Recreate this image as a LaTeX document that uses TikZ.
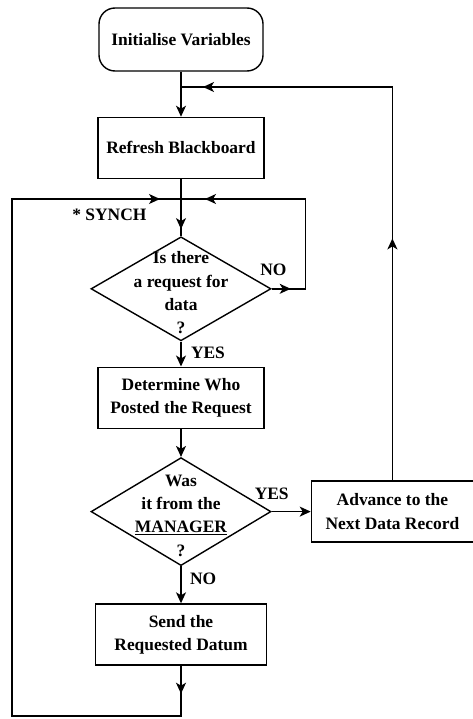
\documentclass[tikz,border=0pt]{standalone}
\usepackage{fontspec}
\setmainfont{Liberation Serif}
\usetikzlibrary{shapes.geometric, arrows.meta, positioning, calc, decorations.markings}
\tikzstyle{process} = [rectangle, minimum width=166bp, minimum height=61bp, text centered, align=center, draw=black, line width=1.4bp, inner sep=2bp]
\tikzstyle{startstop} = [process, rounded corners=16bp, minimum width=164bp, minimum height=63bp]
\tikzstyle{decision} = [diamond, draw=black, line width=1.4bp, minimum width=180bp, minimum height=104bp, inner sep=0pt]
\tikzstyle{line} = [draw, line width=1.4bp]
\tikzstyle{arrow} = [line, -{Stealth[length=11bp, width=10bp, inset=3bp]}]
\tikzset{midarrow/.style={postaction={decorate, decoration={markings, mark=at position #1 with {\arrow{Stealth[length=11bp, width=10bp, inset=3bp]}}}}}}

\begin{document}
\begin{tikzpicture}[x=1bp, y=-1bp, node distance=30bp and 39bp, font=\bfseries\fontsize{17.5}{23.5}\selectfont]
    \useasboundingbox (0,0) rectangle (473,719);

    % Nodes
    \node (init) [startstop] at (181,39.5) {Initialise Variables};
    \node (refresh) [process, below=45bp of init] {Refresh Blackboard};
    \node (request) [decision, below=57bp of refresh, label={[align=center, yshift=-4bp]center:{Is there\\a request for\\data\\?}}] {};
    \node (who) [process, below=25bp of request] {Determine Who\\Posted the Request};
    \node (manager) [decision, below=28bp of who, minimum height=108bp, label={[align=center, yshift=-4bp]center:{Was\\it from the\\\underline{MANAGER}\\?}}] {};
    \node (send) [process, below=37bp of manager, minimum width=171bp] {Send the\\Requested Datum};
    \node (advance) [process, right=of manager, minimum width=162bp] {Advance to the\\Next Data Record};

    % Junctions and corners of the loops
    \coordinate (top) at (181,87);
    \coordinate (synchjoin) at (181,199);
    \coordinate (bottom) at (181,716);
    \coordinate (leftline) at (12,199);
    \node (synch) [below left=6bp and 31bp of synchjoin] {* SYNCH};

    % Flow arrows
    \draw [arrow] (init) -- (refresh);
    \draw [line, midarrow=50bp] (refresh) -- (request);
    \draw [arrow] (request) -- node[right=6bp, pos=0.45] {YES} (who);
    \draw [arrow] (who) -- (manager);
    \draw [arrow] (manager) -- node[right=5bp, pos=0.35] {NO} (send);
    \draw [arrow] (manager) -- node[above=8bp, pos=0] {YES} (advance);

    % Loops back
    \draw [line, midarrow=19bp, midarrow=-24bp] (request.east) -- node[above=9bp, pos=0.05] {NO} ++(34,0) |- (synchjoin);
    \draw [line, midarrow=28bp, midarrow=-21bp] (send.south) -- (bottom) -| (leftline) -- (synchjoin);
    \draw [line, midarrow=242bp, midarrow=-22bp] (advance.north) |- (top);

\end{tikzpicture}
\end{document}
